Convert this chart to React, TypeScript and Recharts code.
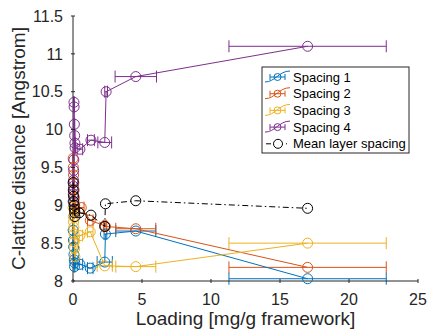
import { ScatterChart, Scatter, XAxis, YAxis, ErrorBar, Label } from 'recharts';

// x ticks / y ticks
const xTicks = [0, 5, 10, 15, 20, 25];
const yTicks = [8, 8.5, 9, 9.5, 10, 10.5, 11, 11.5];

// Spacing 1 (blue)
const s1X = [0.01, 0.03, 0.05, 0.07, 0.09, 0.11, 0.13, 0.5, 1.25, 2.3, 2.35, 4.55, 17];
const s1Y = [8.67, 8.54, 8.45, 8.35, 8.28, 8.19, 8.24, 8.22, 8.17, 8.25, 8.62, 8.66, 8.03];
const s1E = [0.01, 0.02, 0.03, 0.03, 0.03, 0.03, 0.03, 0.2, 0.2, 0.55, 0.1, 1.45, 5.7];

// Spacing 2 (orange)
const s2X = [0.01, 0.02, 0.04, 0.06, 0.08, 0.1, 0.12, 0.14, 0.6, 1.25, 2.3, 2.35, 4.55, 17];
const s2Y = [9.62, 9.5, 9.4, 9.3, 9.2, 9.1, 9.0, 8.92, 8.97, 8.8, 8.73, 8.72, 8.69, 8.18];
const s2E = [0.01, 0.02, 0.03, 0.03, 0.03, 0.03, 0.03, 0.03, 0.2, 0.2, 0.1, 0.1, 1.45, 5.7];

// Spacing 3 (yellow)
const s3X = [0.01, 0.02, 0.04, 0.06, 0.08, 0.1, 0.12, 0.14, 0.5, 1.25, 2.3, 4.55, 17];
const s3Y = [8.97, 8.85, 8.78, 8.71, 8.62, 8.52, 8.43, 8.32, 8.6, 8.65, 8.2, 8.19, 8.5];
const s3E = [0.01, 0.02, 0.03, 0.03, 0.03, 0.03, 0.03, 0.03, 0.2, 0.2, 0.55, 1.45, 5.7];

// Spacing 4 (purple)
const s4X = [0.01, 0.02, 0.03, 0.04, 0.05, 0.06, 0.07, 0.08, 0.1, 0.12, 0.14, 0.15, 0.5, 1.3, 2.3, 2.4, 4.55, 17];
const s4Y = [9.05, 9.15, 9.25, 9.33, 9.46, 9.6, 10.36, 10.3, 10.07, 9.92, 9.82, 9.76, 9.74, 9.86, 9.83, 10.5, 10.7, 11.1];
const s4E = [0.01, 0.02, 0.03, 0.03, 0.03, 0.03, 0.03, 0.03, 0.03, 0.03, 0.03, 0.03, 0.2, 0.25, 0.5, 0.1, 1.5, 5.7];

// Mean layer spacing (black)
const mX = [0.01, 0.02, 0.04, 0.06, 0.08, 0.1, 0.12, 0.14, 0.45, 1.3, 2.3, 2.35, 4.55, 17];
const mY = [9.3, 9.2, 9.12, 9.05, 9.0, 8.95, 8.9, 8.85, 8.9, 8.87, 8.72, 9.02, 9.06, 8.96];

const build = (xs: number[], ys: number[], es?: number[]) =>
  xs.map((x, i) => ({ x, y: ys[i], xerr: es ? es[i] : 0 }));

const series = [
  { name: 'Spacing 1', color: '#0072BD', data: build(s1X, s1Y, s1E) },
  { name: 'Spacing 2', color: '#D95319', data: build(s2X, s2Y, s2E) },
  { name: 'Spacing 3', color: '#EDB120', data: build(s3X, s3Y, s3E) },
  { name: 'Spacing 4', color: '#7E2F8E', data: build(s4X, s4Y, s4E) },
];
const meanData = build(mX, mY);

const AX = '#262626';
const FONT = '"Liberation Sans", Arial, sans-serif';

const ring = (color: string) => (p: any) =>
  <circle cx={p.cx} cy={p.cy} r={5} fill="none" stroke={color} strokeWidth={1} />;

const BottomTick = (p: any) => (
  <g>
    <line x1={p.x} x2={p.x} y1={p.y} y2={p.y - 4} stroke={AX} />
    <text x={p.x} y={p.y + 22} textAnchor="middle" fill={AX} fontSize={16} fontFamily={FONT}>
      {p.payload.value}
    </text>
  </g>
);
const LeftTick = (p: any) => (
  <g>
    <line x1={p.x} x2={p.x + 4} y1={p.y} y2={p.y} stroke={AX} />
    <text x={p.x - 8} y={p.y} dy="0.36em" textAnchor="end" fill={AX} fontSize={16} fontFamily={FONT}>
      {p.payload.value}
    </text>
  </g>
);
const TopTick = (p: any) => <line x1={p.x} x2={p.x} y1={p.y} y2={p.y + 4} stroke={AX} />;
const RightTick = (p: any) => <line x1={p.x} x2={p.x - 4} y1={p.y} y2={p.y} stroke={AX} />;

const LegendBox = () => {
  const rows = [...series.map((s) => ({ name: s.name, color: s.color, mean: false })),
    { name: 'Mean layer spacing', color: '#000', mean: true }];
  return (
    <svg width={150} height={88} style={{ position: 'absolute', left: 261, top: 66 }}>
      <rect x={1} y={1} width={147} height={86} fill="#fff" stroke={AX} strokeWidth={1} />
      {rows.map((r, i) => {
        const y = 11 + i * 16.7;
        return (
          <g key={r.name}>
            {r.mean ? (
              <g>
                <line x1={5} x2={29} y1={y} y2={y} stroke="#000" strokeDasharray="5 3 1 3" />
                <circle cx={17} cy={y} r={4.5} fill="#fff" stroke="#000" />
              </g>
            ) : (
              <g stroke={r.color} fill="none">
                <path d={`M4,${y + 5} C14,${y + 5} 18,${y - 6} 29,${y - 6}`} />
                <line x1={9} x2={24} y1={y} y2={y} />
                <line x1={9} x2={9} y1={y - 3} y2={y + 3} />
                <line x1={24} x2={24} y1={y - 3} y2={y + 3} />
                <circle cx={16.5} cy={y} r={3.5} />
              </g>
            )}
            <text x={32} y={y} dy="0.36em" fontSize={13} fill="#000" fontFamily={FONT}>{r.name}</text>
          </g>
        );
      })}
    </svg>
  );
};

export default function App() {
  return (
    <div style={{ position: 'absolute', left: 0, top: 0, width: 432, height: 333, background: '#fff' }}>
      <ScatterChart width={432} height={333} margin={{ top: 16, right: 14, bottom: 0, left: 0 }}>
        <XAxis
          type="number" dataKey="x" domain={[0, 25]} ticks={xTicks} height={52}
          tickSize={0} tickLine={false} tick={BottomTick} stroke={AX} interval={0}
        >
          <Label
            content={({ viewBox }: any) => (
              <text x={viewBox.x + viewBox.width / 2} y={viewBox.y + 44} textAnchor="middle"
                fill={AX} fontSize={19} fontFamily={FONT}>
                Loading [mg/g framework]
              </text>
            )}
          />
        </XAxis>
        <YAxis
          type="number" dataKey="y" domain={[8, 11.5]} ticks={yTicks} width={73}
          tickSize={0} tickLine={false} tick={LeftTick} stroke={AX} interval={0}
        >
          <Label
            content={({ viewBox }: any) => (
              <text transform={`translate(${viewBox.x + 25},${viewBox.y + viewBox.height / 2}) rotate(-90)`}
                textAnchor="middle" fill={AX} fontSize={19} fontFamily={FONT}>
                C-lattice distance [Angstrom]
              </text>
            )}
          />
        </YAxis>
        <XAxis xAxisId="top" orientation="top" type="number" domain={[0, 25]} ticks={xTicks}
          height={0} tickSize={0} tickLine={false} tick={TopTick} stroke={AX} interval={0} />
        <YAxis yAxisId="right" orientation="right" type="number" domain={[8, 11.5]} ticks={yTicks}
          width={0} tickSize={0} tickLine={false} tick={RightTick} stroke={AX} interval={0} />
        {series.map((s) => (
          <Scatter key={s.name} name={s.name} data={s.data} fill="none" stroke={s.color}
            line={{ stroke: s.color, strokeWidth: 1 }} shape={ring(s.color)} isAnimationActive={false}>
            <ErrorBar dataKey="xerr" direction="x" width={6} stroke={s.color} strokeWidth={1}
              isAnimationActive={false} />
          </Scatter>
        ))}
        <Scatter name="Mean layer spacing" data={meanData} fill="none" stroke="#000"
          line={{ stroke: '#000', strokeWidth: 1, strokeDasharray: '6 3 1.5 3' }}
          shape={ring('#000')} isAnimationActive={false} />
      </ScatterChart>
      <LegendBox />
    </div>
  );
}
